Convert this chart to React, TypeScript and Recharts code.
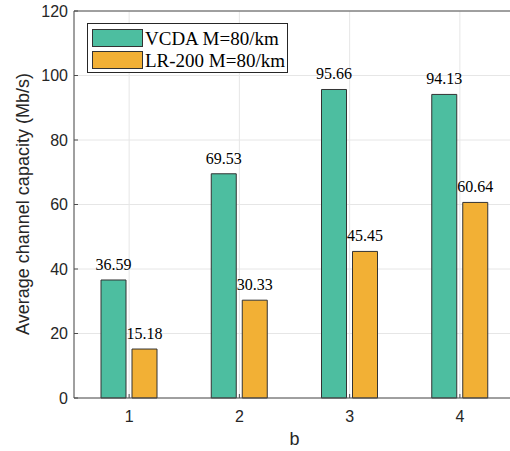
import React from 'react';
import { BarChart, Bar, XAxis, YAxis, CartesianGrid, LabelList, Legend, ReferenceLine, Label } from 'recharts';

const categories = ['1', '2', '3', '4'];
const vcdaValues = [36.59, 69.53, 95.66, 94.13];
const lr200Values = [15.18, 30.33, 45.45, 60.64];
const yTicks = [0, 20, 40, 60, 80, 100, 120];
const seriesNames = ['VCDA M=80/km', 'LR-200 M=80/km'];

const data = categories.map((b, i) => ({ b, vcda: vcdaValues[i], lr: lr200Values[i] }));

const TEAL = '#4DBEA0';
const ORANGE = '#F2B035';
const COLORS = [TEAL, ORANGE];
const AXIS = '#4d4d4d';
const TXT = '#262626';
const SANS = "'Liberation Sans', Arial, sans-serif";
const SERIF = "'Liberation Serif', 'Times New Roman', serif";

const XTick = (props: any) => {
  const { x, y, payload } = props;
  return (
    <g>
      <line x1={x} x2={x} y1={y} y2={y - 4} stroke={AXIS} />
      <text x={x} y={y + 24} textAnchor="middle" fontFamily={SANS} fontSize={16} fill={TXT}>
        {payload.value}
      </text>
    </g>
  );
};

const TopTick = (props: any) => {
  const { x, y } = props;
  return <line x1={x} x2={x} y1={y} y2={y + 4} stroke={AXIS} />;
};

const YTick = (props: any) => {
  const { x, y, payload } = props;
  return (
    <g>
      <line x1={x} x2={x + 4} y1={y} y2={y} stroke={AXIS} />
      <text x={x - 6} y={y} dy="0.36em" textAnchor="end" fontFamily={SANS} fontSize={16} fill={TXT}>
        {payload.value}
      </text>
    </g>
  );
};

const ValueLabel = (props: any) => {
  const { x, y, width, value } = props;
  return (
    <text x={Number(x) + Number(width) / 2} y={Number(y) - 10} textAnchor="middle" fontFamily={SERIF} fontSize={16} fill="#000">
      {value}
    </text>
  );
};

const renderLegend = () => (
  <svg width={202} height={51} style={{ display: 'block' }}>
    <rect x={0.5} y={0.5} width={200} height={49} fill="#fff" stroke={TXT} />
    {seriesNames.map((name, i) => (
      <g key={i}>
        <rect x={5.5} y={6.5 + i * 22} width={50} height={17} fill={COLORS[i]} stroke="#333" />
        <text x={58} y={22 + i * 21.5} fontFamily={SERIF} fontSize={19} fill="#000">
          {name}
        </text>
      </g>
    ))}
  </svg>
);

export default function App() {
  return (
    <div style={{ position: 'absolute', left: 0, top: 0, width: 510, height: 451, overflow: 'hidden', background: '#fff' }}>
      <BarChart
        width={530}
        height={451}
        data={data}
        margin={{ top: 11, right: 15, left: 0, bottom: 0 }}
        barSize={25}
        barGap={6}
      >
        <CartesianGrid stroke="#e6e6e6" />
        <XAxis
          dataKey="b"
          height={53}
          tickLine={false}
          tickSize={0}
          tickMargin={0}
          axisLine={{ stroke: AXIS }}
          tick={XTick}
          interval={0}
        >
          <Label
            content={() => (
              <text x={294.5} y={445} textAnchor="middle" fontFamily={SANS} fontSize={18} fill={TXT}>
                b
              </text>
            )}
          />
        </XAxis>
        <XAxis
          xAxisId="top"
          orientation="top"
          dataKey="b"
          height={0}
          tickLine={false}
          tickSize={0}
          tickMargin={0}
          axisLine={{ stroke: AXIS }}
          tick={TopTick}
          interval={0}
        />
        <YAxis
          width={74}
          domain={[0, 120]}
          ticks={yTicks}
          interval={0}
          tickLine={false}
          tickSize={0}
          tickMargin={0}
          axisLine={{ stroke: AXIS }}
          tick={YTick}
        >
          <Label
            content={() => (
              <text
                x={29}
                y={204}
                transform="rotate(-90 29 204)"
                textAnchor="middle"
                fontFamily={SANS}
                fontSize={18}
                fill={TXT}
              >
                Average channel capacity (Mb/s)
              </text>
            )}
          />
        </YAxis>
        <ReferenceLine y={120} stroke={AXIS} />
        <Legend
          layout="horizontal"
          verticalAlign="middle"
          align="center"
          content={renderLegend}
          wrapperStyle={{ position: 'absolute', left: 87, top: 23, width: 202, height: 51 }}
        />
        <Bar dataKey="vcda" name={seriesNames[0]} fill={TEAL} stroke="#333" strokeWidth={1} isAnimationActive={false}>
          <LabelList dataKey="vcda" content={ValueLabel} />
        </Bar>
        <Bar dataKey="lr" name={seriesNames[1]} fill={ORANGE} stroke="#333" strokeWidth={1} isAnimationActive={false}>
          <LabelList dataKey="lr" content={ValueLabel} />
        </Bar>
      </BarChart>
    </div>
  );
}
